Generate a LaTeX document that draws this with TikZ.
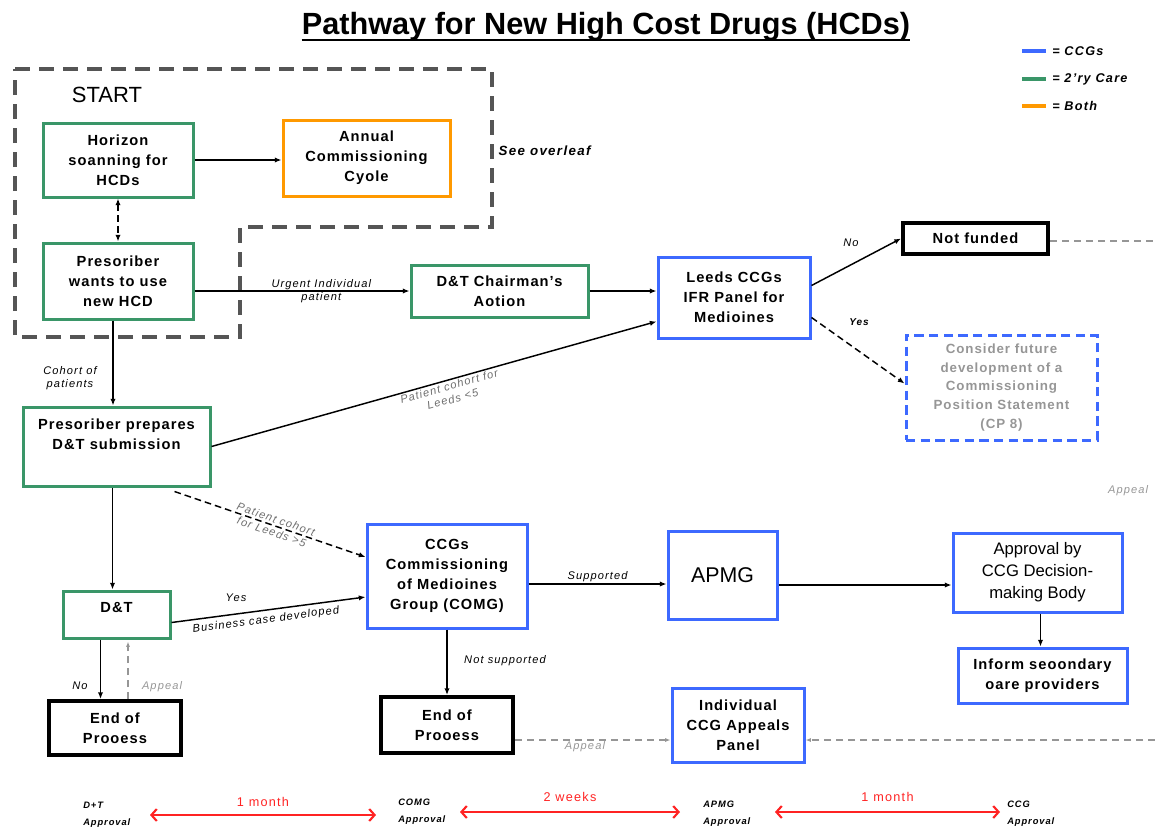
\documentclass[tikz,border=0pt]{standalone}
\usepackage{fontspec}
\setmainfont{Liberation Sans}
\newfontfamily\wideF[LetterSpace=7]{Liberation Sans}
\newfontfamily\wideL[LetterSpace=10]{Liberation Sans}
\usetikzlibrary{arrows.meta,calc}
\definecolor{cblue}{RGB}{61,105,255}
\definecolor{cgreen}{RGB}{58,150,104}
\definecolor{corange}{RGB}{255,153,0}
\definecolor{cdash}{RGB}{85,85,85}
\definecolor{cgray}{RGB}{150,150,150}
\definecolor{clab}{RGB}{110,110,110}
\definecolor{cred}{RGB}{255,35,35}
\tikzset{
  box/.style={draw, line width=2.25pt, align=center, inner sep=2pt,
    font=\wideF\bfseries\fontsize{11}{15}\selectfont},
  gbox/.style={box, draw=cgreen},
  bbox/.style={box, draw=cblue},
  obox/.style={box, draw=corange},
  kbox/.style={box, draw=black, line width=3pt},
  lab/.style={font=\wideL\itshape\fontsize{8.3}{10}\selectfont, inner sep=1pt, align=center},
  glab/.style={lab, text=cgray},
  tlab/.style={font=\wideL\bfseries\itshape\fontsize{7}{13}\selectfont, align=left, anchor=west, inner sep=0pt},
  conn/.style={line width=1.1pt, -{Latex[length=5pt,width=4pt]}},
  dconn/.style={conn, dash pattern=on 5pt off 3pt},
  gconn/.style={cgray, line width=0.9pt, dash pattern=on 5pt off 4pt, -{Latex[length=4pt,width=3pt]}},
  gline/.style={cgray, line width=0.9pt, dash pattern=on 5pt off 4pt},
  tline/.style={cred, line width=1.6pt, arrows={Straight Barb[length=4pt,width=9pt]-Straight Barb[length=4pt,width=9pt]}},
  startdash/.style={cdash, line width=2.4pt, dash pattern=on 11pt off 7pt},
  legline/.style={line width=3pt},
  legtxt/.style={font=\wideL\bfseries\itshape\fontsize{9.5}{11}\selectfont, anchor=west, inner sep=0pt},
  redlab/.style={text=cred, font=\wideL\fontsize{9.5}{10}\selectfont}
}
\begin{document}
\begin{tikzpicture}[x=0.75pt,y=-0.75pt]
\useasboundingbox (0,0) rectangle (1155,832);

% title
\node[font=\bfseries\fontsize{23}{26}\selectfont, inner sep=0pt] (title) at (606,27) {Pathway for New High Cost Drugs (HCDs)};
\draw[line width=1.4pt] ($(title.base west)+(0,5)$) -- ($(title.base east)+(0,5)$);

% legend
\coordinate (l1a) at (1022,51); \coordinate (l1b) at (1046,51);
\coordinate (l2a) at (1022,79); \coordinate (l2b) at (1046,79);
\coordinate (l3a) at (1022,106); \coordinate (l3b) at (1046,106);
\draw[legline, cblue] (l1a) -- (l1b);
\draw[legline, cgreen] (l2a) -- (l2b);
\draw[legline, corange] (l3a) -- (l3b);
\node[legtxt] (lt1) at (1052,51) {= CCGs};
\node[legtxt] (lt2) at (1052,79) {= 2’ry Care};
\node[legtxt] (lt3) at (1052,106) {= Both};

% start region
\draw[startdash] (15,69) -- (492,69) -- (492,227) -- (240,227) -- (240,337) -- (15,337) -- cycle;
\node[font=\fontsize{16.5}{18}\selectfont, inner sep=0pt] (start) at (107,95) {START};
\node[lab, font=\wideL\bfseries\itshape\fontsize{10}{12}\selectfont, anchor=west] (overleaf) at (497,151) {See overleaf};

% boxes
\node[gbox, minimum width=112.5pt, minimum height=55.5pt] (horizon) at (118,160) {Horizon\\soanning for\\HCDs};
\node[obox, minimum width=125.25pt, minimum height=57pt] (annual) at (366.5,158) {Annual\\Commissioning\\Cyole};
\node[gbox, minimum width=112.5pt, minimum height=57pt] (wants) at (118,281) {Presoriber\\wants to use\\new HCD};
\node[gbox, minimum width=132.75pt, minimum height=39pt] (chair) at (499.5,291) {D\&T Chairman’s\\Aotion};
\node[bbox, minimum width=114pt, minimum height=60.75pt] (ifr) at (734,297.5) {Leeds CCGs\\IFR Panel for\\Medioines};
\node[kbox, minimum width=108.75pt, minimum height=23.25pt] (notfunded) at (975.5,238.5) {Not funded};
\node[bbox, dash pattern=on 7pt off 4pt, text=cgray, minimum width=143.25pt, minimum height=78.75pt,
  font=\wideF\bfseries\fontsize{10}{14}\selectfont] (consider) at (1001.5,387.5)
  {Consider future\\development of a\\Commissioning\\Position Statement\\(CP 8)};
\node[gbox, minimum width=140.25pt, minimum height=59.25pt] (prepares) at (116.5,446.5) {Presoriber prepares\\D\&T submission\\[4pt]};
\node[gbox, minimum width=80.25pt, minimum height=35.25pt, text depth=10pt] (dt) at (116.5,614.5) {D\&T};
\node[kbox, minimum width=99pt, minimum height=40.5pt] (endL) at (115,728) {End of\\Prooess};
\node[bbox, minimum width=120pt, minimum height=78pt] (ccmg) at (447,576) {CCGs\\Commissioning\\of Medioines\\Group (COMG)};
\node[kbox, minimum width=99pt, minimum height=42pt] (endM) at (447,725) {End of\\Prooess};
\node[bbox, minimum width=81.75pt, minimum height=66pt, font=\fontsize{16}{18}\selectfont] (apmg) at (722.5,575) {APMG};
\node[bbox, minimum width=126.75pt, minimum height=59.25pt, font=\fontsize{12.5}{16.5}\selectfont] (approval) at (1037.5,572.5) {Approval by\\CCG Decision-\\making Body};
\node[bbox, minimum width=126.75pt, minimum height=41.25pt] (inform) at (1042.5,675.5) {Inform seoondary\\oare providers};
\node[bbox, minimum width=99pt, minimum height=55.5pt] (panel) at (738,725) {Individual\\CCG Appeals\\Panel};

% connectors
\draw[conn] (horizon.east) -- (horizon.east -| annual.west);
\draw[dconn, arrows={Latex[length=5pt,width=4pt]-Latex[length=5pt,width=4pt]}] (horizon.south) -- (wants.north);
\draw[conn] (wants.east |- chair.west) -- node[lab, pos=0.59] (urg) {Urgent Individual\\patient} (chair.west);
\draw[conn] (chair.east) -- (chair.east -| ifr.west);
\draw[conn] (prepares.east) -- node[lab, text=clab, sloped, below, pos=0.53] (lt5) {Patient cohort for\\Leeds <5} ($(ifr.west)+(0,24)$);
\draw[conn] ($(ifr.east)+(0,-12)$) -- (notfunded.west);
\draw[dconn] ($(ifr.east)+(0,20)$) -- ($(consider.west)+(0,-4)$);
\coordinate (nfEnd) at (1155,241);
\draw[gline] (notfunded.east |- nfEnd) -- (nfEnd);
\node[lab] (no1) at (851,243) {No};
\node[lab, font=\wideL\bfseries\itshape\fontsize{7.5}{9}\selectfont] (yes1) at (859,322) {Yes};

\coordinate (wantsOut) at ($(wants.south)+(-5,0)$);
\draw[conn] (wantsOut) -- (wantsOut |- prepares.north);
\node[lab] (cohort) at (70,378) {Cohort of\\patients};
\coordinate (prepOut) at ($(prepares.south)+(-4,0)$);
\draw[conn] (prepOut) -- (prepOut |- dt.north);
\draw[dconn] ($(prepares.south)+(58,4)$) -- node[lab, text=clab, sloped, pos=0.52] (lt6) {Patient cohort\\for Leeds >5} ($(ccmg.west)+(0,-19)$);
\draw[conn] ($(dt.east)+(0,8)$) -- node[lab, sloped, below=2pt, pos=0.48] (bcd) {Business case developed} ($(ccmg.west)+(0,21)$);
\node[lab] (yes2) at (236,598) {Yes};
\coordinate (dtNo) at ($(dt.south)+(-16,0)$);
\draw[conn] (dtNo) -- (dtNo |- endL.north);
\node[lab] (no2) at (80,686) {No};
\coordinate (dtAp) at ($(endL.north)+(13,0)$);
\draw[gconn] (dtAp) -- ($(dtAp |- dt.south)+(0,2)$);
\node[glab] (ap1) at (162,687) {Appeal};

\draw[conn] ($(ccmg.east)+(0,8)$) -- node[lab, above, pos=0.5] (sup) {Supported} ($(apmg.west)+(0,9)$);
\draw[conn] (ccmg.south) -- (endM.north);
\node[lab] (nsup) at (505,661) {Not supported};
\draw[gconn] ($(endM.east)+(0,15)$) -- node[glab, below, pos=0.45] (ap2) {Appeal} ($(panel.west)+(0,15)$);
\coordinate (rEnd) at (1155,740);
\draw[gconn] (rEnd) -- ($(panel.east)+(0,15)$);
\node[glab] (ap3) at (1128,491) {Appeal};
\draw[conn] ($(apmg.east)+(0,10)$) -- ($(approval.west)+(0,12.5)$);
\draw[conn] ($(approval.south)+(3,0)$) -- ($(inform.north)+(-2,0)$);

% timeline
\node[tlab] (t1) at (83,815) {D+T\\Approval};
\node[tlab] (t2) at (398,812) {COMG\\Approval};
\node[tlab] (t3) at (703,814) {APMG\\Approval};
\node[tlab] (t4) at (1007,814) {CCG\\Approval};
\coordinate (a1) at (150,815); \coordinate (a2) at (376,815);
\coordinate (b1) at (460,812); \coordinate (b2) at (680,812);
\coordinate (c1) at (775,812); \coordinate (c2) at (1000,812);
\draw[tline] (a1) -- node[above=2pt, redlab] (m1) {1 month} (a2);
\draw[tline] (b1) -- node[above=4pt, redlab] (m2) {2 weeks} (b2);
\draw[tline] (c1) -- node[above=4pt, redlab] (m3) {1 month} (c2);
\end{tikzpicture}
\end{document}
